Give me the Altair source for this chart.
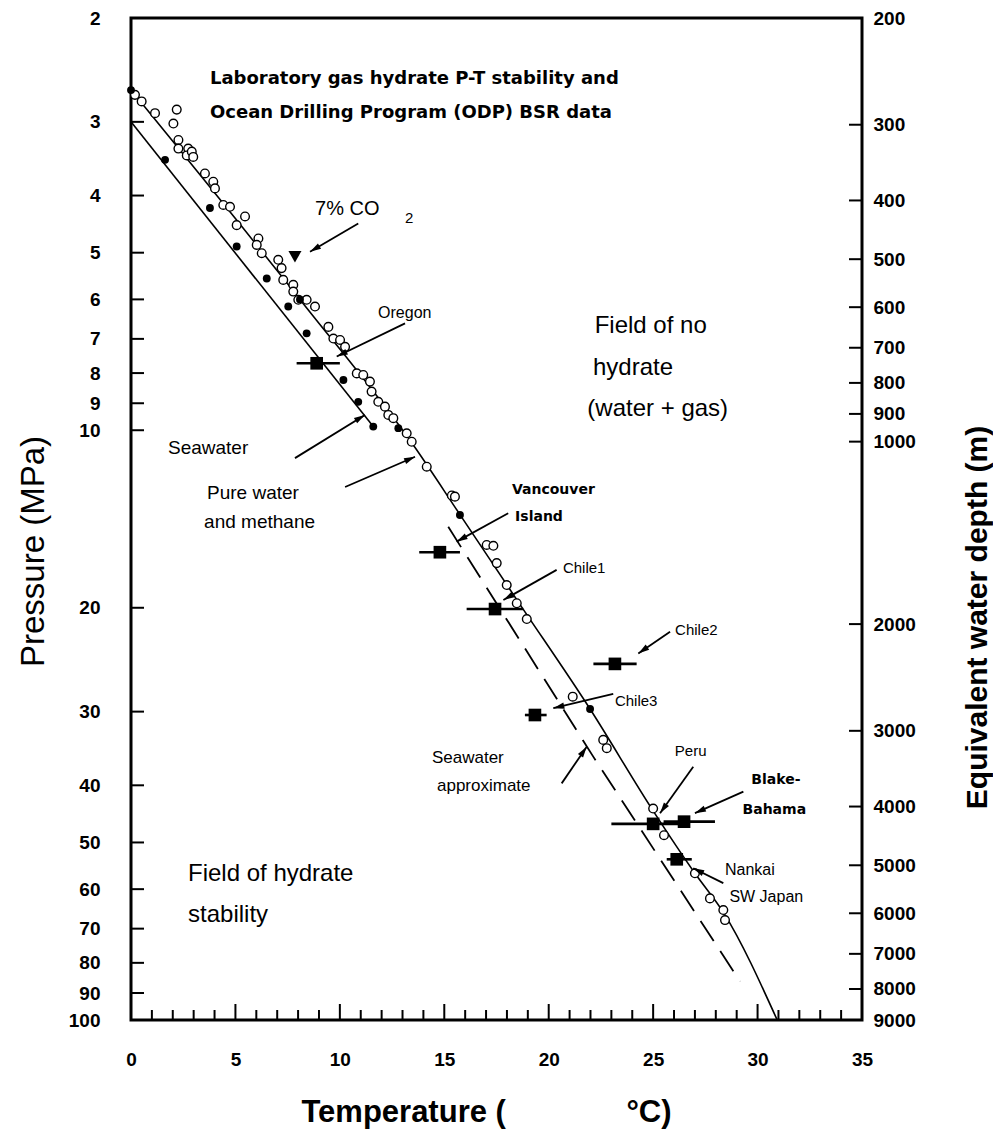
import math
import altair as alt
import pandas as pd

# ---------------- data ----------------
# Laboratory P-T data, pure water + methane (open circles)
open_T = [0.19, 0.51, 1.15, 2.19, 2.03, 2.27, 2.27, 2.74, 2.67, 2.91, 2.98, 3.54, 3.94, 4.02,
          4.42, 4.74, 5.46, 5.06, 6.10, 6.02, 6.26, 7.05, 7.21, 7.29, 7.77, 7.77, 8.01, 8.41,
          8.81, 9.45, 9.69, 10.01, 10.25, 10.81, 11.12, 11.44, 11.52, 11.84, 12.16, 12.32, 12.56,
          13.2, 13.44, 14.16, 15.36, 15.51, 17.03, 17.35, 17.51, 17.99, 18.47, 18.95, 21.15,
          22.61, 22.78, 25.0, 25.52, 27.0, 27.72, 28.36, 28.44]
open_P = [2.70, 2.77, 2.90, 2.86, 3.02, 3.22, 3.33, 3.33, 3.42, 3.37, 3.44, 3.67, 3.79, 3.89,
          4.15, 4.18, 4.34, 4.49, 4.73, 4.85, 5.01, 5.14, 5.31, 5.56, 5.67, 5.82, 6.01, 6.01,
          6.17, 6.68, 6.99, 7.03, 7.22, 8.01, 8.06, 8.27, 8.60, 8.95, 9.12, 9.42, 9.54,
          10.12, 10.46, 11.53, 12.9, 12.96, 15.65, 15.7, 16.8, 18.3, 19.65, 20.9, 28.3,
          33.5, 34.6, 43.8, 48.6, 56.4, 62.2, 65.1, 67.7]
# filled circles on the pure-water curve
pure_fill_T = [0.0, 8.09, 12.8, 15.75, 21.98]
pure_fill_P = [2.65, 6.0, 9.92, 13.92, 29.7]
# filled circles, seawater
sea_T = [1.63, 3.78, 5.06, 6.50, 7.53, 8.41, 10.17, 10.88, 11.6]
sea_P = [3.48, 4.20, 4.88, 5.53, 6.17, 6.85, 8.22, 8.95, 9.86]
# curves
pure_line_T = [0.0, 8.09, 13.6, 15.75, 18.5, 21.98, 25.0, 27.0, 28.4, 30.94]
pure_line_P = [2.65, 6.0, 10.7, 13.9, 19.45, 29.7, 44.2, 56.4, 66.0, 100.0]
sea_line_T = [0.0, 11.6]
sea_line_P = [3.0, 9.86]
sea_approx_T = [15.19, 22.14, 29.16]
sea_approx_P = [14.58, 35.8, 86.0]
# 7% CO2 point
co2_T = [7.85]
co2_P = [5.08]
# ODP BSR sites
bsr_site = ["Oregon", "Vancouver Island", "Chile1", "Chile2", "Chile3", "Peru",
            "Blake-Bahama", "Nankai"]
bsr_T = [8.89, 14.79, 17.43, 23.17, 19.34, 25.0, 26.48, 26.13]
bsr_P = [7.70, 16.1, 20.1, 24.9, 30.4, 46.5, 46.1, 53.4]
bsr_lo = [7.93, 13.8, 16.07, 22.14, 18.86, 23.0, 25.5, 25.65]
bsr_hi = [10.0, 15.75, 18.78, 24.21, 19.9, 26.5, 27.96, 26.85]
# annotation arrows (tail -> head)
arr_T1 = [10.88, 13.12, 7.85, 10.25, 18.06, 20.38, 25.81, 23.09, 20.62, 26.92, 29.32, 28.36]
arr_P1 = [4.46, 6.59, 11.15, 12.48, 13.83, 17.25, 21.96, 28.0, 39.7, 37.2, 41.0, 58.6]
arr_T2 = [8.57, 9.85, 11.2, 13.6, 15.59, 17.83, 24.29, 20.22, 21.82, 25.33, 27.0, 26.92]
arr_P2 = [4.98, 7.50, 9.42, 11.09, 15.45, 19.4, 23.9, 29.6, 34.4, 44.6, 44.6, 55.3]
# axis ticks
p_ticks = [2, 3, 4, 5, 6, 7, 8, 9, 10, 20, 30, 40, 50, 60, 70, 80, 90, 100]
d_ticks = [200, 300, 400, 500, 600, 700, 800, 900, 1000,
           2000, 3000, 4000, 5000, 6000, 7000, 8000, 9000]
t_major = [0, 5, 10, 15, 20, 25, 30, 35]
t_minor = [t for t in range(0, 36) if t % 5 != 0]

# ---------------- layout / style ----------------
W, H = 731, 1002
ARIAL = "Liberation Sans"
BOLDF = "DejaVu Sans"

xscale = alt.Scale(domain=[0, 35], nice=False, zero=False)
yscale = alt.Scale(type="log", domain=[2, 100], reverse=True, nice=False)
dscale = alt.Scale(type="log", domain=[200, 9000], reverse=True, nice=False)

NB = "\u00a0"
x_axis = alt.Axis(values=t_major, format="d", ticks=False, domain=False, grid=False,
                  labelFont=ARIAL, labelFontSize=19, labelFontWeight="bold", labelColor="black",
                  labelPadding=30, labelFlush=False, labelOverlap=False,
                  title="Temperature (" + NB * 14 + "°C)", titleFont=ARIAL, titleFontSize=31,
                  titleFontWeight="bold", titleColor="black", titleX=355, titleY=101,
                  titleAlign="center", titleBaseline="alphabetic")
y_axis = alt.Axis(values=p_ticks, format="d", ticks=False, domain=False, grid=False,
                  labelFont=ARIAL, labelFontSize=19, labelFontWeight="bold", labelColor="black",
                  labelPadding=31, labelFlush=False, labelOverlap=False,
                  title="Pressure (MPa)", titleFont=ARIAL, titleFontSize=33,
                  titleFontWeight="normal", titleColor="black", titleAngle=270,
                  titleX=-88, titleY=533, titleAlign="center", titleBaseline="alphabetic")


def X(f):
    return alt.X(f, type="quantitative", scale=xscale, axis=x_axis)


def Y(f):
    return alt.Y(f, type="quantitative", scale=yscale, axis=y_axis)


layers = []

# inward ticks: bottom (major / minor) and left
layers.append(alt.Chart(pd.DataFrame({"T": t_major})).mark_rule(color="black", strokeWidth=2)
              .encode(x=X("T"), y=alt.value(H), y2=alt.value(H - 16)))
layers.append(alt.Chart(pd.DataFrame({"T": t_minor})).mark_rule(color="black", strokeWidth=2)
              .encode(x=X("T"), y=alt.value(H), y2=alt.value(H - 10)))
layers.append(alt.Chart(pd.DataFrame({"P": p_ticks})).mark_rule(color="black", strokeWidth=2)
              .encode(y=Y("P"), x=alt.value(0), x2=alt.value(13)))

# curves
layers.append(alt.Chart(pd.DataFrame({"T": pure_line_T, "P": pure_line_P}))
              .mark_line(color="black", strokeWidth=1.6, interpolate="monotone")
              .encode(x=X("T"), y=Y("P")))
layers.append(alt.Chart(pd.DataFrame({"T": sea_line_T, "P": sea_line_P}))
              .mark_line(color="black", strokeWidth=1.6)
              .encode(x=X("T"), y=Y("P")))
layers.append(alt.Chart(pd.DataFrame({"T": sea_approx_T, "P": sea_approx_P}))
              .mark_line(color="black", strokeWidth=1.8, strokeDash=[24, 12])
              .encode(x=X("T"), y=Y("P")))

# points
layers.append(alt.Chart(pd.DataFrame({"T": open_T, "P": open_P}))
              .mark_point(shape="circle", filled=True, fill="white", stroke="black",
                          strokeWidth=1.4, size=75, opacity=1)
              .encode(x=X("T"), y=Y("P")))
layers.append(alt.Chart(pd.DataFrame({"T": pure_fill_T + sea_T, "P": pure_fill_P + sea_P}))
              .mark_point(shape="circle", filled=True, color="black", size=62, opacity=1)
              .encode(x=X("T"), y=Y("P")))
layers.append(alt.Chart(pd.DataFrame({"T": co2_T, "P": co2_P}))
              .mark_point(shape="triangle-down", filled=True, color="black", size=170, opacity=1)
              .encode(x=X("T"), y=Y("P")))

# BSR sites with error bars
bsr_df = pd.DataFrame({"site": bsr_site, "T": bsr_T, "P": bsr_P, "lo": bsr_lo, "hi": bsr_hi})
layers.append(alt.Chart(bsr_df).mark_rule(color="black", strokeWidth=2.6)
              .encode(x=X("lo"), x2="hi:Q", y=Y("P")))
layers.append(alt.Chart(bsr_df).mark_square(color="black", size=160, opacity=1)
              .encode(x=X("T"), y=Y("P")))

# arrows
LOGSPAN = math.log10(100 / 2)


def px(t):
    return t / 35 * W


def py(p):
    return math.log10(p / 2) / LOGSPAN * H


ang = []
for a, b, c, d in zip(arr_T1, arr_P1, arr_T2, arr_P2):
    dx = px(c) - px(a)
    dy = py(d) - py(b)
    ang.append(math.degrees(math.atan2(dx, -dy)) % 360)
arr_df = pd.DataFrame({"T1": arr_T1, "P1": arr_P1, "T2": arr_T2, "P2": arr_P2, "ang": ang})
layers.append(alt.Chart(arr_df).mark_rule(color="black", strokeWidth=1.8)
              .encode(x=X("T1"), y=Y("P1"), x2="T2:Q", y2="P2:Q"))
layers.append(alt.Chart(arr_df)
              .mark_point(shape="M0,0L0.45,1.6L-0.45,1.6Z", filled=True, color="black",
                          size=190, opacity=1)
              .encode(x=X("T2"), y=Y("P2"), angle=alt.Angle("ang:Q", scale=None)))


# text annotations
def text_layer(labels, T, P, font, size, weight="normal"):
    df = pd.DataFrame({"label": labels, "T": T, "P": P})
    return (alt.Chart(df)
            .mark_text(align="left", baseline="alphabetic", font=font, fontSize=size,
                       fontWeight=weight, color="black")
            .encode(x=X("T"), y=Y("P"), text="label:N"))


layers.append(text_layer(["Laboratory gas hydrate P-T stability and",
                          "Ocean Drilling Program (ODP) BSR data"],
                         [3.78, 3.78], [2.588, 2.956], BOLDF, 18, "bold"))
layers.append(text_layer(["7% CO"], [8.81], [4.32], ARIAL, 20))
layers.append(text_layer(["2"], [13.12], [4.45], ARIAL, 15))
layers.append(text_layer(["Oregon"], [11.83], [6.45], ARIAL, 16))
layers.append(text_layer(["Field of no", "hydrate", "(water + gas)"],
                         [22.2, 22.12, 21.85], [6.85, 8.05, 9.45], ARIAL, 24))
layers.append(text_layer(["Seawater", "Pure water", "and methane"],
                         [1.77, 3.64, 3.5], [10.97, 13.08, 14.64], ARIAL, 19))
layers.append(text_layer(["Vancouver", "Island"], [18.24, 18.39], [12.83, 14.25],
                         BOLDF, 14, "bold"))
layers.append(text_layer(["Chile1", "Chile2", "Chile3"], [20.68, 26.05, 23.17],
                         [17.44, 22.24, 29.36], ARIAL, 15))
layers.append(text_layer(["Seawater", "approximate"], [14.41, 14.65], [36.66, 40.9], ARIAL, 17))
layers.append(text_layer(["Peru"], [26.04], [35.7], ARIAL, 15))
layers.append(text_layer(["Blake-", "Bahama"], [29.7, 29.28], [39.8, 44.7], BOLDF, 14, "bold"))
layers.append(text_layer(["Nankai", "SW Japan"], [28.44, 28.65], [56.8, 63.0], ARIAL, 16))
layers.append(text_layer(["Field of hydrate", "stability"], [2.73, 2.73], [58.1, 68.2], ARIAL, 24))

main = alt.layer(*layers)

# right axis: equivalent water depth
right = (alt.Chart(pd.DataFrame({"D": d_ticks})).mark_rule(color="black", strokeWidth=2)
         .encode(y=alt.Y("D:Q", scale=dscale,
                         axis=alt.Axis(orient="right", values=d_ticks, format="d", ticks=False,
                                       domain=False, grid=False, labelFont=ARIAL,
                                       labelFontSize=19, labelFontWeight="bold",
                                       labelColor="black", labelPadding=11, labelFlush=False,
                                       labelOverlap=False,
                                       title="Equivalent water depth (m)", titleFont=ARIAL,
                                       titleFontSize=30, titleFontWeight="bold",
                                       titleColor="black", titleAngle=270, titleX=124,
                                       titleY=599, titleAlign="center",
                                       titleBaseline="alphabetic")),
                 x=alt.value(W - 13), x2=alt.value(W)))

chart = (alt.layer(main, right)
         .resolve_scale(y="independent")
         .properties(width=W, height=H,
                     padding={"left": 131, "top": 18, "right": 131, "bottom": 113},
                     autosize=alt.AutoSizeParams(type="none"))
         .configure(background="white")
         .configure_view(stroke="black", strokeWidth=3))

chart.save("out.html", embed_options={"renderer": "svg", "actions": False})
